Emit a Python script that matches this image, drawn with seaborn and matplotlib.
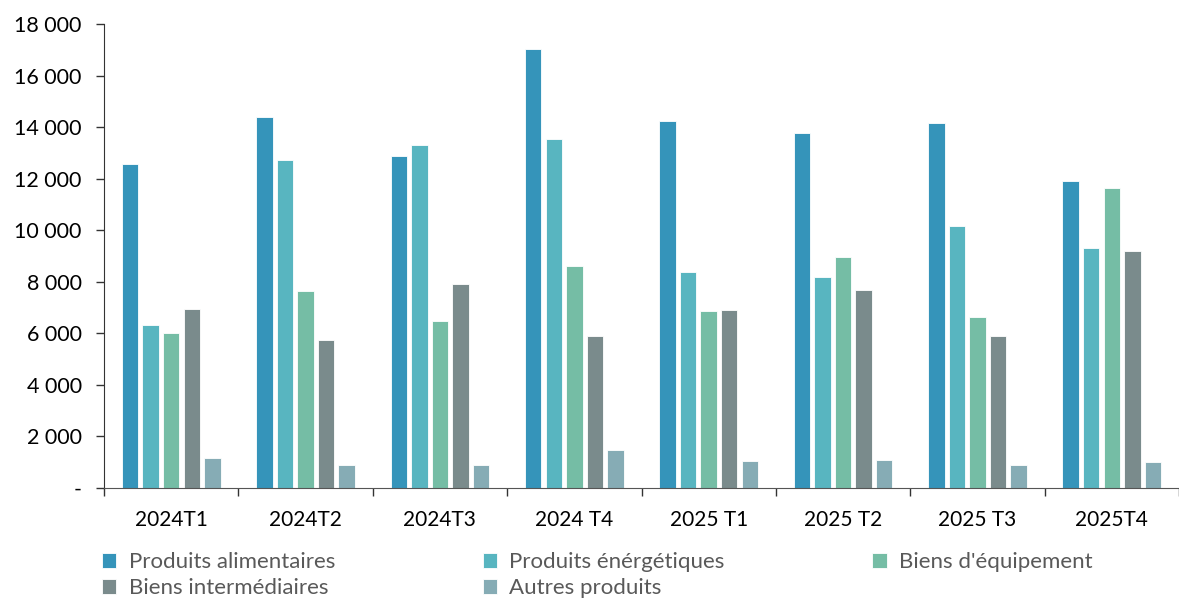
import seaborn as sns
import matplotlib.pyplot as plt
import pandas as pd

# les données
trimestres = ['2024T1', '2024T2', '2024T3', '2024 T4', '2025 T1', '2025 T2', '2025 T3', '2025T4']
produits = ['Produits alimentaires', 'Produits énérgétiques', "Biens d'équipement",
            'Biens intermédiaires', 'Autres produits']
alimentaires = [12550, 14390, 12880, 17030, 14240, 13760, 14160, 11900]
energetiques = [6320, 12740, 13290, 13530, 8380, 8180, 10150, 9310]
equipement = [6020, 7640, 6480, 8610, 6870, 8950, 6630, 11640]
intermediaires = [6940, 5740, 7910, 5900, 6920, 7690, 5880, 9190]
autres = [1160, 900, 890, 1460, 1050, 1090, 890, 1020]
couleurs = ['#3594BA', '#58B5C0', '#75BDA5', '#7A8B8C', '#86ACB5']

series = [alimentaires, energetiques, equipement, intermediaires, autres]
df = pd.DataFrame({
    'Trimestre': trimestres * len(produits),
    'Produit': [p for p in produits for _ in trimestres],
    'Valeur': [v for s in series for v in s],
})

plt.rcParams['font.family'] = ['Lato', 'DejaVu Sans']
fig = plt.figure(figsize=(11.79, 5.99), dpi=100)
ax = fig.add_axes([104 / 1179, 111 / 599, 1 - 104 / 1179, 464 / 599])

sns.barplot(data=df, x='Trimestre', y='Valeur', hue='Produit', palette=couleurs,
            saturation=1, width=0.765, gap=0.2, edgecolor='white', linewidth=0.6, ax=ax)

ax.set_ylim(0, 18000)
ax.set_xlim(-0.5, -0.5 + 1075 / 136)
ax.set_yticks(range(0, 18001, 2000))
ax.set_yticklabels(['-'] + [f'{v:,}'.replace(',', ' ') for v in range(2000, 18001, 2000)])
ax.tick_params(axis='y', labelsize=15.5, length=6, width=1, pad=10, color='#333333')

ax.set_xticks([i - 0.5 for i in range(9)])
ax.set_xticklabels([])
ax.set_xticks(range(len(trimestres)), minor=True)
ax.set_xticklabels(trimestres, minor=True, fontsize=15)
ax.tick_params(axis='x', which='major', length=6, width=1, direction='out', color='#333333')
ax.tick_params(axis='x', which='minor', length=0, pad=16)

for s in ['top', 'right']:
    ax.spines[s].set_visible(False)
ax.spines['left'].set_color('#333333')
ax.spines['bottom'].set_color('#555555')
ax.set_xlabel('')
ax.set_ylabel('')

# ordre ligne par ligne comme dans Excel
handles, labels = ax.get_legend_handles_labels()
ordre = [0, 3, 1, 4, 2]
ax.legend([handles[i] for i in ordre], [labels[i] for i in ordre], ncol=3, loc='upper left',
          bbox_to_anchor=(-0.002, -0.139), frameon=False, fontsize=16, labelcolor='#595959',
          handlelength=0.65, handleheight=0.65, handletextpad=0.55, columnspacing=6.65,
          labelspacing=0.25, borderaxespad=0, borderpad=0)

fig.savefig('out.png', dpi=100)
